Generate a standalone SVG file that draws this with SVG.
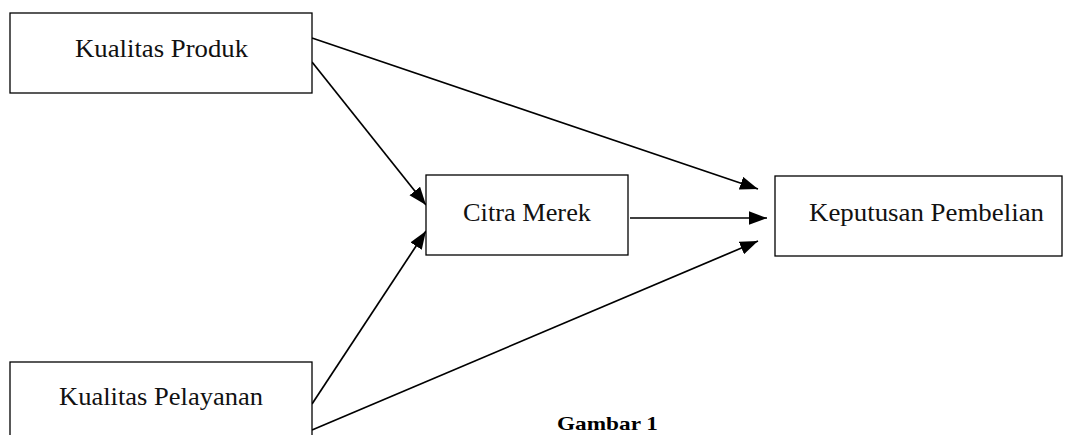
<svg xmlns="http://www.w3.org/2000/svg" width="1065" height="435" viewBox="0 0 1065 435">
<style>
.box{fill:#fff;stroke:#000;stroke-width:1.3}
.lbl{font-family:"Liberation Serif","Times New Roman",serif;font-size:25px;fill:#111;text-anchor:middle}
.cap{font-family:"Liberation Serif","Times New Roman",serif;font-size:19px;font-weight:bold;fill:#000;text-anchor:middle}
.edge{stroke:#000;stroke-width:1.7;fill:none;marker-end:url(#ah)}
</style>
<defs>
<marker id="ah" markerUnits="userSpaceOnUse" markerWidth="18" markerHeight="14" viewBox="0 0 16 12" refX="16" refY="6" orient="auto">
<path d="M0,0 L16,6 L0,12 Z" fill="#000"/>
</marker>
</defs>
<rect width="1065" height="435" fill="#fff"/>
<g id="connectors">
<line class="edge" x1="312" y1="38" x2="758" y2="189"/>
<line class="edge" x1="312" y1="62" x2="426" y2="205"/>
<line class="edge" x1="630" y1="218" x2="767" y2="218"/>
<line class="edge" x1="312" y1="404" x2="426" y2="231"/>
<line class="edge" x1="312" y1="430" x2="758" y2="241"/>
</g>
<g id="kualitas-produk">
<rect class="box" x="10" y="13" width="302" height="80"/>
<text class="lbl" x="161.5" y="57" textLength="173" lengthAdjust="spacingAndGlyphs">Kualitas Produk</text>
</g>
<g id="citra-merek">
<rect class="box" x="426" y="175" width="202" height="80"/>
<text class="lbl" x="527" y="221" textLength="128" lengthAdjust="spacingAndGlyphs">Citra Merek</text>
</g>
<g id="keputusan-pembelian">
<rect class="box" x="775" y="176" width="287" height="80"/>
<text class="lbl" x="926.5" y="221" textLength="235" lengthAdjust="spacingAndGlyphs">Keputusan Pembelian</text>
</g>
<g id="kualitas-pelayanan">
<rect class="box" x="10" y="362" width="302" height="100"/>
<text class="lbl" x="161" y="405" textLength="204" lengthAdjust="spacingAndGlyphs">Kualitas Pelayanan</text>
</g>
<text class="cap" x="607.5" y="430" textLength="101" lengthAdjust="spacingAndGlyphs">Gambar 1</text>
</svg>
